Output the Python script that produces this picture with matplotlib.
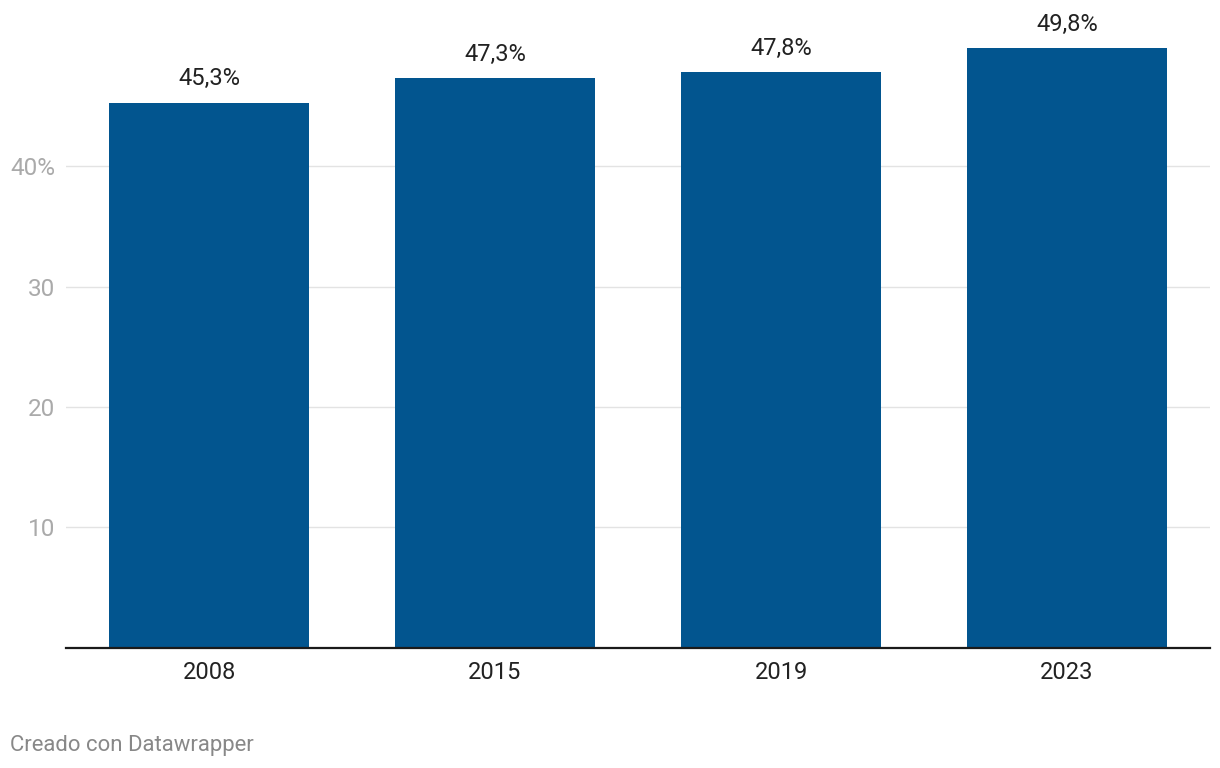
import matplotlib
matplotlib.use("Agg")
import matplotlib.pyplot as plt

years = ["2008", "2015", "2019", "2023"]
values = [45.3, 47.3, 47.8, 49.8]
ytick_vals = [10, 20, 30, 40]
ytick_labels = ["10", "20", "30", "40%"]

plt.rcParams["font.family"] = ["Roboto", "DejaVu Sans"]

fig = plt.figure(figsize=(12.2, 7.68), dpi=100)
ax = fig.add_axes([66 / 1220, 120.5 / 768, 1144 / 1220, 627.5 / 768])

x = range(len(years))
ax.bar(x, values, width=0.7, color="#02558f", zorder=2)

ax.set_xlim(-0.5, 3.5)
ax.set_ylim(0, 627.5 / 12.03)

ax.set_yticks(ytick_vals)
ax.set_yticklabels(ytick_labels)
ax.grid(axis="y", color="#e3e3e3", linewidth=1, zorder=0)

for s in ["top", "right", "left"]:
    ax.spines[s].set_visible(False)
ax.spines["bottom"].set_color("#1a1a1a")
ax.spines["bottom"].set_linewidth(1.6)
ax.spines["bottom"].set_zorder(3)

ax.set_xticks(list(x))
ax.set_xticklabels(years)
ax.tick_params(axis="x", length=0, pad=10, labelsize=17, labelcolor="#222222")
ax.tick_params(axis="y", length=0, pad=8, labelsize=17.5, labelcolor="#aaaaaa")

for xi, v in zip(x, values):
    ax.annotate(f"{v:.1f}%".replace(".", ","), (xi, v), xytext=(0, 9),
                textcoords="offset points", ha="center", va="bottom",
                fontsize=17, color="#222222")

fig.text(10 / 1220, 1 - 745 / 768, "Creado con Datawrapper", ha="left", va="center",
         fontsize=15.9, color="#888888")

fig.savefig("out.png", dpi=100)
